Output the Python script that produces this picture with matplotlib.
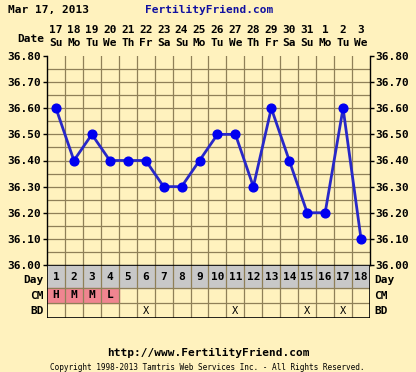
import matplotlib
matplotlib.use("Agg")
import matplotlib.pyplot as plt
from matplotlib.patches import Rectangle

title_date = "Mar 17, 2013"
site = "FertilityFriend.com"
days = list(range(1, 19))
dates = ["17", "18", "19", "20", "21", "22", "23", "24", "25", "26", "27", "28", "29", "30", "31", "1", "2", "3"]
weekdays = ["Su", "Mo", "Tu", "We", "Th", "Fr", "Sa", "Su", "Mo", "Tu", "We", "Th", "Fr", "Sa", "Su", "Mo", "Tu", "We"]
temps = [36.60, 36.40, 36.50, 36.40, 36.40, 36.40, 36.30, 36.30, 36.40, 36.50, 36.50, 36.30, 36.60, 36.40, 36.20, 36.20, 36.60, 36.10]
cm = ["H", "M", "M", "L", "", "", "", "", "", "", "", "", "", "", "", "", "", ""]
bd_days = [6, 11, 15, 17]
yticks = [36.00, 36.10, 36.20, 36.30, 36.40, 36.50, 36.60, 36.70, 36.80]

BG = "#FFF2BE"
GRID = "#8F8058"
CELL = "#FFF6DE"
GRAY = "#C8C8C8"
PINK = "#F08590"
W, H = 416, 372
FONT = "DejaVu Sans Mono"
FS = 8

fig = plt.figure(figsize=(W / 100, H / 100), dpi=100, facecolor=BG)

def px(x0, y0, x1, y1):
    return [x0 / W, 1 - y1 / H, (x1 - x0) / W, (y1 - y0) / H]

# main chart
ax = fig.add_axes(px(47, 56, 370, 265), facecolor=BG)
ax.set_xlim(0.5, 18.5)
ax.set_ylim(36.0, 36.8)
for x in [d + 0.5 for d in days[:-1]]:
    ax.axvline(x, color=GRID, lw=0.9, zorder=1)
for k in range(1, 16):
    ax.axhline(36.0 + 0.05 * k, color=GRID, lw=0.9, zorder=1)
ax.plot(days, temps, color="#2828C8", lw=2, zorder=3)
ax.plot(days, temps, "o", color="#0000F0", ms=6.3, zorder=4)
ax.set_xticks([])
ax.set_yticks(yticks)
ax.set_yticklabels([f"{v:.2f}" for v in yticks], fontfamily=FONT, fontweight="bold", fontsize=FS)
ax.tick_params(axis="y", length=3, width=1, color="black", pad=1, right=True, labelright=True)
for lbl in ax.get_yticklabels():
    lbl.set_verticalalignment("center_baseline")
for s in ax.spines.values():
    s.set_color("black")
    s.set_linewidth(1)
ax.spines["top"].set_visible(False)

# header
for d, dt, wd in zip(days, dates, weekdays):
    ax.text(d, 1.125, dt, transform=ax.get_xaxis_transform(), ha="center", va="center",
            fontfamily=FONT, fontweight="bold", fontsize=FS)
    ax.text(d, 1.062, wd, transform=ax.get_xaxis_transform(), ha="center", va="center",
            fontfamily=FONT, fontweight="bold", fontsize=FS)
fig.text(44 / W, 1 - 39 / H, "Date", ha="right", va="center", fontfamily=FONT, fontweight="bold", fontsize=FS)
fig.text(8 / W, 1 - 10 / H, title_date, ha="left", va="center", fontfamily=FONT, fontweight="bold", fontsize=FS)
fig.text(273 / W, 1 - 10 / H, site, ha="right", va="center", fontfamily=FONT, fontweight="bold",
         fontsize=FS, color="#1010A0")

# table
tb = fig.add_axes(px(47, 265, 370, 318), facecolor=CELL)
tb.set_xlim(0.5, 18.5)
tb.set_ylim(0, 53)
tb.axis("off")
tb.add_patch(Rectangle((0.5, 30), 18, 23, color=GRAY, zorder=0))
for d, c in zip(days, cm):
    if c:
        tb.add_patch(Rectangle((d - 0.5, 15), 1, 15, color=PINK, zorder=0))
        tb.text(d, 22.5, c, ha="center", va="center", fontfamily=FONT, fontweight="bold", fontsize=FS)
for d in days:
    tb.text(d, 41, str(d), ha="center", va="center", fontfamily=FONT, fontweight="bold", fontsize=FS)
for d in bd_days:
    tb.text(d, 7.5, "X", ha="center", va="center", fontfamily=FONT, fontsize=7.5)
for x in [d + 0.5 for d in days[:-1]]:
    tb.plot([x, x], [0, 53], color=GRID, lw=0.9)
for y in [15, 30]:
    tb.plot([0.5, 18.5], [y, y], color=GRID, lw=0.9)
tb.plot([0.5, 18.5, 18.5, 0.5, 0.5], [0, 0, 53, 53, 0], color="black", lw=1.2)
for lab, yy in [("Day", 280), ("CM", 296), ("BD", 311)]:
    fig.text(44 / W, 1 - yy / H, lab, ha="right", va="center", fontfamily=FONT, fontweight="bold", fontsize=FS)
    fig.text(374 / W, 1 - yy / H, lab, ha="left", va="center", fontfamily=FONT, fontweight="bold", fontsize=FS)

# footer
fig.text(208 / W, 1 - 353 / H, "http://www.FertilityFriend.com", ha="center", va="center",
         fontfamily=FONT, fontweight="bold", fontsize=FS)
fig.text(207 / W, 1 - 367 / H, "Copyright 1998-2013 Tamtris Web Services Inc. - All Rights Reserved.",
         ha="center", va="center", fontfamily=FONT, fontsize=5.6)

fig.savefig("out.png", dpi=100, facecolor=BG)
